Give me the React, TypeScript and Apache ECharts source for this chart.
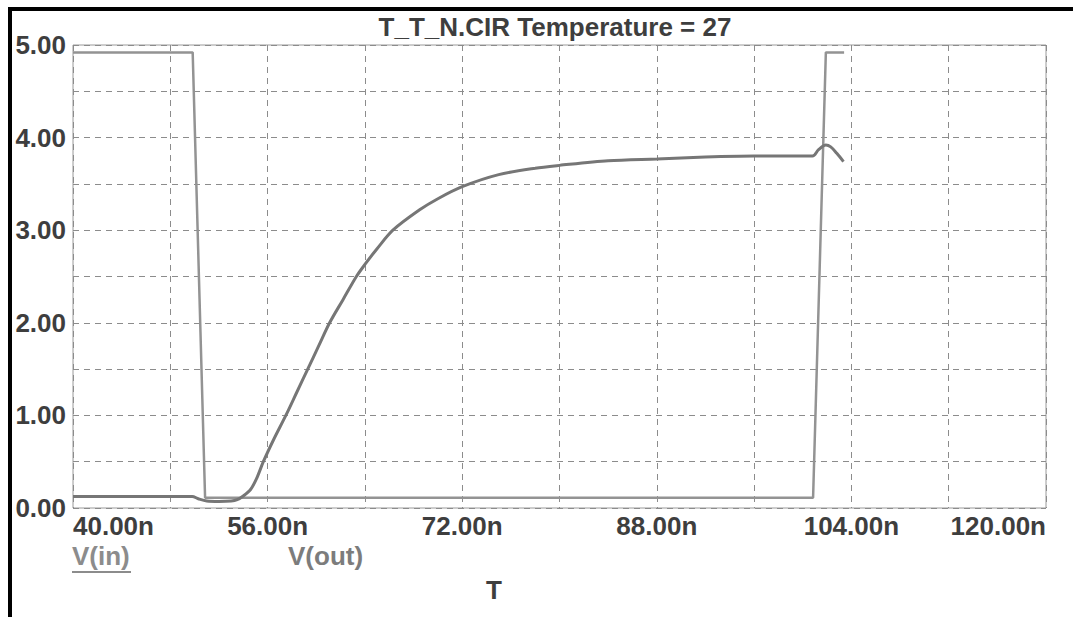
import React, { useEffect, useRef } from "react";
import * as echarts from "echarts";

// Time axis (ns) and values (V)
const vinTime = [40, 49.84, 50.86, 100.85, 101.9, 103.4];
const vinValue = [4.92, 4.92, 0.11, 0.11, 4.92, 4.92];

const voutTime = [
  40, 49.8, 50.3, 51, 52, 53, 53.5, 54, 54.6, 55.1, 55.65, 56.5, 57.5, 58.4, 59.3,
  60.2, 61.1, 62.2, 63.3, 64, 65, 66.3, 68.5, 70, 72, 75, 78, 80, 84, 88, 92, 96,
  100.8, 101.3, 101.9, 102.3, 102.8, 103.35,
];
const voutValue = [
  0.125, 0.125, 0.1, 0.075, 0.07, 0.075, 0.09, 0.13, 0.2, 0.32, 0.5, 0.74, 1.0, 1.25, 1.5,
  1.75, 2.0, 2.25, 2.5, 2.63, 2.8, 3.0, 3.22, 3.34, 3.47, 3.6, 3.67, 3.7, 3.75, 3.77, 3.79, 3.8,
  3.8, 3.87, 3.92, 3.9, 3.83, 3.74,
];

const xTickValues = [40, 56, 72, 88, 104, 120];
const xTickLabels = ["40.00n", "56.00n", "72.00n", "88.00n", "104.00n", "120.00n"];
const yTickValues = [0, 1, 2, 3, 4, 5];
const yTickLabels = ["0.00", "1.00", "2.00", "3.00", "4.00", "5.00"];

const titleText = "T_T_N.CIR Temperature = 27";
const seriesNames = ["V(in)", "V(out)"];
const xAxisName = "T";

const FONT = "'Liberation Sans', Arial, sans-serif";
const TEXT = "#3e3e3e";
const VIN_COLOR = "#939393";
const VOUT_COLOR = "#767676";

export default function App() {
  const ref = useRef<HTMLDivElement>(null);
  useEffect(() => {
    if (!ref.current) return;
    const chart = echarts.init(ref.current, undefined, { renderer: "svg" });
    const vinData = vinTime.map((t, i) => [t, vinValue[i]]);
    const voutData = voutTime.map((t, i) => [t, voutValue[i]]);
    chart.setOption({
      animation: false,
      backgroundColor: "#ffffff",
      grid: {
        left: 73,
        right: 27,
        top: 45,
        bottom: 109,
        show: true,
        borderColor: "#9a9a9a",
        borderWidth: 1,
      },
      xAxis: {
        type: "value",
        min: 40,
        max: 120,
        interval: 8,
        axisLine: { show: false },
        axisTick: { show: false },
        splitLine: {
          show: true,
          lineStyle: { color: "#8c8c8c", type: [6, 5], width: 1 },
        },
        axisLabel: {
          interval: 0,
          margin: 5,
          alignMinLabel: "left",
          alignMaxLabel: "right",
          color: TEXT,
          fontFamily: FONT,
          fontWeight: "bold",
          fontSize: 26,
          formatter: (v: number) => {
            const i = xTickValues.indexOf(Math.round(v));
            return i >= 0 ? xTickLabels[i] : "";
          },
        },
      },
      yAxis: {
        type: "value",
        min: 0,
        max: 5,
        interval: 0.5,
        axisLine: { show: false },
        axisTick: { show: false },
        splitLine: {
          show: true,
          lineStyle: { color: "#8c8c8c", type: [6, 5], width: 1 },
        },
        axisLabel: {
          margin: 7,
          color: TEXT,
          fontFamily: FONT,
          fontWeight: "bold",
          fontSize: 26,
          formatter: (v: number) => {
            const i = yTickValues.findIndex((y) => Math.abs(y - v) < 1e-6);
            return i >= 0 ? yTickLabels[i] : "";
          },
        },
      },
      series: [
        {
          name: seriesNames[0],
          type: "line",
          data: vinData,
          showSymbol: false,
          lineStyle: { color: VIN_COLOR, width: 2.5 },
          z: 2,
        },
        {
          name: seriesNames[1],
          type: "line",
          data: voutData,
          showSymbol: false,
          smooth: 0.3,
          lineStyle: { color: VOUT_COLOR, width: 3 },
          z: 3,
        },
      ],
      graphic: [
        { type: "rect", shape: { x: 8, y: 7, width: 1065, height: 4 }, style: { fill: "#000" } },
        { type: "rect", shape: { x: 8, y: 7, width: 4, height: 610 }, style: { fill: "#000" } },
        {
          type: "text",
          x: 555,
          y: 27,
          style: {
            text: titleText,
            fill: TEXT,
            font: `bold 26px ${FONT}`,
            align: "center",
            verticalAlign: "middle",
          },
        },
        {
          type: "text",
          x: 72,
          y: 556,
          style: {
            text: seriesNames[0],
            fill: "#8c8c8c",
            font: `bold 26px ${FONT}`,
            align: "left",
            verticalAlign: "middle",
          },
        },
        {
          type: "line",
          shape: { x1: 72, y1: 572, x2: 131, y2: 572 },
          style: { stroke: "#8c8c8c", lineWidth: 2 },
        },
        {
          type: "text",
          x: 288,
          y: 556,
          style: {
            text: seriesNames[1],
            fill: "#7c7c7c",
            font: `bold 26px ${FONT}`,
            align: "left",
            verticalAlign: "middle",
          },
        },
        {
          type: "text",
          x: 494,
          y: 590,
          style: {
            text: xAxisName,
            fill: TEXT,
            font: `bold 26px ${FONT}`,
            align: "center",
            verticalAlign: "middle",
          },
        },
      ],
    });
    return () => chart.dispose();
  }, []);
  return (
    <div
      ref={ref}
      style={{ position: "fixed", left: 0, top: 0, width: 1073, height: 617, background: "#fff" }}
    />
  );
}
